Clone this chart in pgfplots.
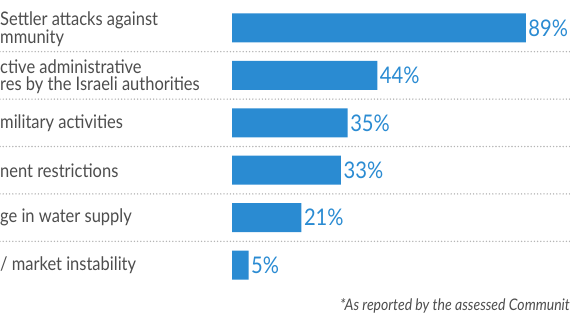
\documentclass[border=0pt]{standalone}
\usepackage{pgfplots}
\pgfplotsset{compat=1.18}
\usepackage{fontspec}
\setmainfont{Lato}[FakeStretch=0.88]
\definecolor{barblue}{HTML}{2A8BD2}
\definecolor{txtgray}{HTML}{4D4D4D}
\definecolor{dotgray}{HTML}{B5B5B5}
\begin{document}
\begin{tikzpicture}
\path[use as bounding box] (0,0) rectangle (570bp,321bp);
\begin{axis}[
  at={(0,0)}, anchor=south west,
  width=570bp, height=321bp, scale only axis,
  xmin=-70.3, xmax=102.4,
  ymin=-0.59, ymax=6.18, y dir=reverse,
  axis lines=none, ticks=none, clip=false,
  xbar, bar width=29bp,
  /pgf/number format/assume math mode=true,
  nodes near coords={\pgfmathprintnumber{\pgfplotspointmeta}\%},
  every node near coord/.append style={font=\fontsize{23}{23}\selectfont, text=barblue, anchor=west, inner sep=2.5bp},
]
\foreach \yy in {0.5,1.5,2.5,3.5,4.5}{
  \edef\tmp{\noexpand\draw[dotgray, line width=1.6bp, dash pattern=on 0bp off 3.2bp, line cap=round] (axis cs:-70.3,\yy) -- (axis cs:102.4,\yy);}
  \tmp
}
\addplot[fill=barblue, draw=none] coordinates {(89,0) (44,1) (35,2) (33,3) (21,4) (5,5)};
\tikzset{lab/.style={anchor=west, align=left, text=txtgray, inner sep=0pt, font=\fontsize{18.8}{17.5}\selectfont}}
\node[lab] at (axis cs:-70.3,0.03) {Settler attacks against\\mmunity};
\node[lab] at (axis cs:-70.3,1.03) {ctive administrative\\res by the Israeli authorities};
\node[lab] at (axis cs:-70.3,2) {military activities};
\node[lab] at (axis cs:-70.3,3) {nent restrictions};
\node[lab] at (axis cs:-70.3,4) {ge in water supply};
\node[lab] at (axis cs:-70.3,5) {/ market instability};
\end{axis}
\node[anchor=base east, inner sep=0pt, text=txtgray, font=\itshape\fontsize{16}{16}\selectfont] at (570bp,11bp) {*As reported by the assessed Communit};
\end{tikzpicture}
\end{document}
